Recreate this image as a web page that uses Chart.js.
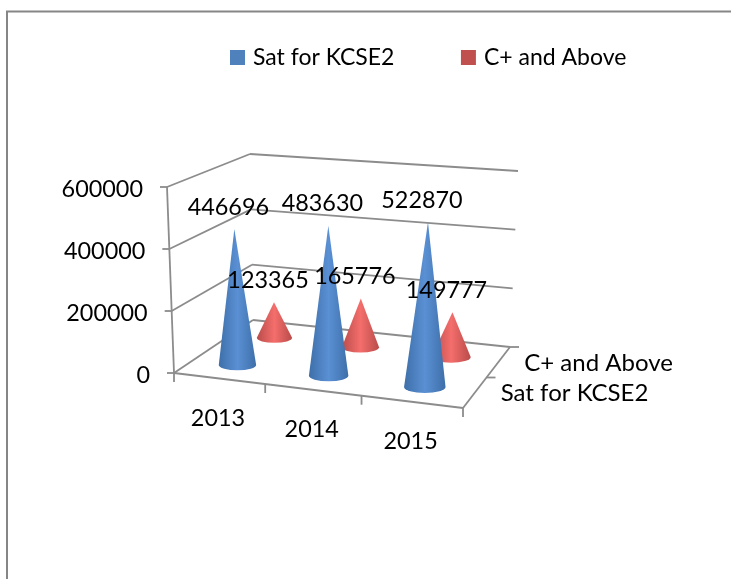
<!DOCTYPE html>
<html>
<head>
<meta charset="utf-8">
<title>KCSE</title>
<style>
  html, body { margin: 0; padding: 0; background: #fff; }
  canvas { display: block; }
</style>
<script src="https://cdn.jsdelivr.net/npm/chart.js@4/dist/chart.umd.min.js"></script>
</head>
<body>
<canvas id="chart" width="731" height="579"></canvas>
<script>
// Data
const categories = ['2013', '2014', '2015'];
const seriesNames = ['Sat for KCSE2', 'C+ and Above'];
const satForKcse = [446696, 483630, 522870];
const cPlusAndAbove = [123365, 165776, 149777];
const valueMax = 600000;
const valueStep = 200000;

const labelFont = '23.4px Lato';
const seriesFont = '24px Lato';
const gridColor = '#8c8c8c';

// Box corners of the 3D view, floor and top (u = along years, v = depth)
const floorCorners = { a: [174, 373], b: [463, 408], c: [510, 347], d: [253, 320] };
const topCorners = { a: [167, 187], b: [468, 212], c: [518, 171], d: [250, 154] };

const coneColors = [
    { edge: '#3e6fa9', light: '#5a90d4' },
    { edge: '#b94c4a', light: '#f46e6c' }
];

const lerp = (p, q, t) => [p[0] + (q[0] - p[0]) * t, p[1] + (q[1] - p[1]) * t];

function quad(c, u, v) {
    return lerp(lerp(c.a, c.b, u), lerp(c.d, c.c, u), v);
}

// u, v and w (height) all 0..1
function project(u, v, w) {
    const warped = u - 0.08 * u * (1 - u);   // years get wider towards the viewer
    return lerp(quad(floorCorners, warped, v), quad(topCorners, warped, v), w);
}

function line(ctx, p, q) {
    ctx.beginPath();
    ctx.moveTo(p[0], p[1]);
    ctx.lineTo(q[0], q[1]);
    ctx.stroke();
}

const depthOf = (datasetIndex) => (datasetIndex + 0.5) / seriesNames.length;
const uOf = (x, i) => (x.getPixelForValue(i) - x.left) / x.width;
const wOf = (y, value) => (y.bottom - y.getPixelForValue(value)) / y.height;

function drawCone(ctx, chart, datasetIndex, i, value) {
    const { x, y } = chart.scales;
    const u = uOf(x, i);
    const v = depthOf(datasetIndex);
    const base = project(u, v, 0);
    const apex = project(u, v, wOf(y, value));
    const step = Math.abs(project(u + 1 / categories.length, v, 0)[0] - base[0]);
    const rx = step * 0.205;
    const ry = rx * 0.29;
    const colors = coneColors[datasetIndex];

    const grad = ctx.createLinearGradient(base[0] - rx, 0, base[0] + rx, 0);
    grad.addColorStop(0, colors.edge);
    grad.addColorStop(0.5, colors.light);
    grad.addColorStop(1, colors.edge);

    ctx.save();
    ctx.fillStyle = grad;
    ctx.beginPath();
    ctx.moveTo(apex[0], apex[1]);
    ctx.lineTo(base[0] - rx, base[1]);
    ctx.ellipse(base[0], base[1], rx, ry, 0, Math.PI, 0, true);
    ctx.closePath();
    ctx.fill();
    ctx.restore();
}

const conePlugin = {
    id: 'cones',
    afterLayout(chart) {
        // legend sits off-centre, right of the middle
        chart.legend.left = 163.5;
        chart.legend.top = -24;
    },
    beforeDraw(chart) {
        const ctx = chart.ctx;
        ctx.save();
        ctx.fillStyle = '#fff';
        ctx.fillRect(0, 0, chart.width, chart.height);
        // outer frame
        ctx.strokeStyle = '#868686';
        ctx.lineWidth = 2;
        ctx.beginPath();
        ctx.moveTo(7, chart.height);
        ctx.lineTo(7, 11.5);
        ctx.lineTo(chart.width, 11.5);
        ctx.stroke();
        ctx.restore();
    },
    beforeDatasetsDraw(chart) {
        const ctx = chart.ctx;
        const { x, y } = chart.scales;
        ctx.save();
        ctx.strokeStyle = gridColor;
        ctx.lineWidth = 1.8;

        // walls
        y.ticks.forEach((tick) => {
            const w = wOf(y, tick.value);
            const front = project(0, 0, w);
            const back = project(0, 1, w);
            line(ctx, front, back);
            line(ctx, back, project(1, 1, w));
            line(ctx, [front[0] - 7, front[1]], front);
        });

        // floor and axes
        line(ctx, project(0, 0, 0), project(1, 0, 0));
        line(ctx, project(1, 0, 0), project(1, 1, 0));
        line(ctx, project(0, 0, 0), project(0, 0, 1));

        for (let i = 0; i <= categories.length; i++) {
            const p = project(i / categories.length, 0, 0);
            line(ctx, p, [p[0], p[1] + 9]);
        }
        for (let s = 1; s <= seriesNames.length; s++) {
            const p = project(1, s / seriesNames.length, 0);
            line(ctx, p, [p[0] + 9, p[1]]);
        }

        // axis labels
        ctx.fillStyle = '#000';
        ctx.font = labelFont;
        ctx.textBaseline = 'middle';
        ctx.textAlign = 'right';
        y.ticks.forEach((tick) => {
            const p = project(0, 0, wOf(y, tick.value));
            ctx.fillText(String(tick.value), p[0] - 24, p[1] + 2);
        });
        ctx.textAlign = 'center';
        categories.forEach((label, i) => {
            const p = project(uOf(x, i), 0, 0);
            ctx.fillText(label, p[0] - 1, p[1] + 40);
        });
        ctx.textAlign = 'left';
        ctx.font = seriesFont;
        seriesNames.forEach((name, s) => {
            const p = project(1, depthOf(s), 0);
            ctx.fillText(name, p[0] + 26, p[1] + 1);
        });
        ctx.restore();
    },
    beforeDatasetDraw(chart, args) {
        const data = chart.data.datasets[args.index].data;
        data.forEach((value, i) => drawCone(chart.ctx, chart, args.index, i, value));
        return false;
    },
    afterDatasetsDraw(chart) {
        const ctx = chart.ctx;
        const { x, y } = chart.scales;
        ctx.save();
        ctx.fillStyle = '#000';
        ctx.font = labelFont;
        ctx.textAlign = 'center';
        ctx.textBaseline = 'middle';
        chart.data.datasets.forEach((ds, s) => {
            ds.data.forEach((value, i) => {
                const apex = project(uOf(x, i), depthOf(s), wOf(y, value));
                ctx.fillText(String(value), apex[0] - 6, apex[1] - 22);
            });
        });
        ctx.restore();
    }
};

new Chart(document.getElementById('chart').getContext('2d'), {
    type: 'bar',
    data: {
        labels: categories,
        datasets: [
            { label: seriesNames[0], data: satForKcse, backgroundColor: '#4f81bd', borderColor: '#4f81bd', borderWidth: 7 },
            { label: seriesNames[1], data: cPlusAndAbove, backgroundColor: '#c0504d', borderColor: '#c0504d', borderWidth: 7 }
        ]
    },
    plugins: [conePlugin],
    options: {
        responsive: false,
        animation: false,
        layout: { padding: { left: 20, right: 20, top: 20, bottom: 205 } },
        scales: {
            x: { display: false },
            y: { display: false, min: 0, max: valueMax, ticks: { stepSize: valueStep } }
        },
        plugins: {
            tooltip: { enabled: false },
            legend: {
                position: 'top',
                align: 'start',
                labels: {
                    // small box plus thick border keeps the text close to the swatch
                    boxWidth: 8,
                    boxHeight: 8,
                    padding: 70,
                    color: '#000',
                    font: { family: 'Lato', size: 23 }
                }
            }
        }
    }
});
</script>
</body>
</html>
